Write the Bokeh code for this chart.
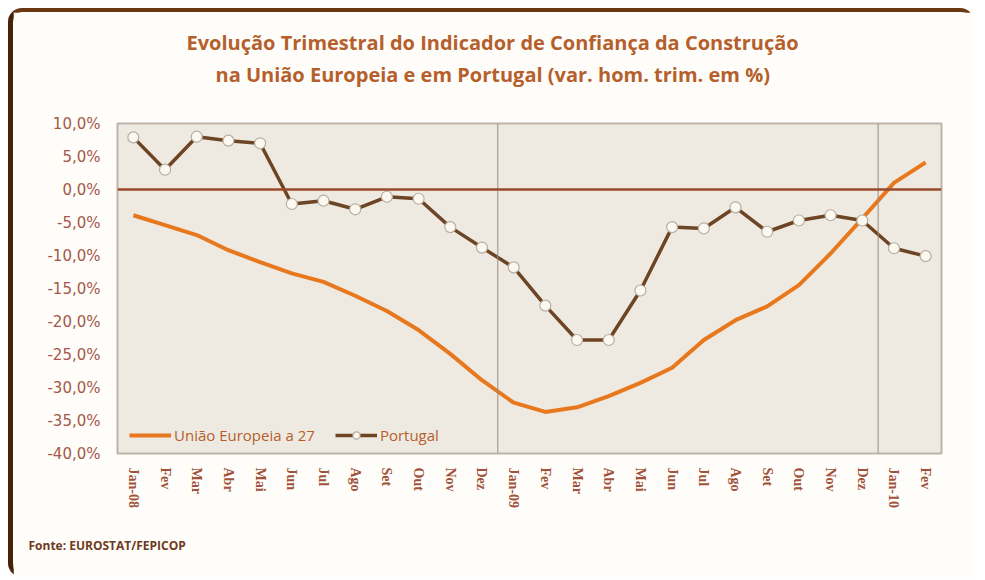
from bokeh.plotting import figure
from bokeh.models import (Title, Legend, LegendItem, Span, FixedTicker, ColumnDataSource)
from bokeh.embed import file_html
from bokeh.resources import INLINE

# ---- data ----
months = ["Jan-08", "Fev", "Mar", "Abr", "Mai", "Jun", "Jul", "Ago", "Set", "Out", "Nov", "Dez",
          "Jan-09", "Fev", "Mar", "Abr", "Mai", "Jun", "Jul", "Ago", "Set", "Out", "Nov", "Dez",
          "Jan-10", "Fev"]
ue27 = [-3.9, -5.4, -6.9, -9.2, -11.0, -12.7, -14.0, -16.1, -18.4, -21.3, -24.9, -28.9,
        -32.3, -33.7, -33.0, -31.3, -29.3, -27.0, -22.8, -19.8, -17.7, -14.5, -9.7, -4.4,
        1.0, 4.1]
portugal = [7.9, 3.0, 8.0, 7.4, 7.0, -2.2, -1.7, -3.0, -1.1, -1.4, -5.7, -8.8,
            -11.8, -17.6, -22.8, -22.8, -15.3, -5.7, -5.9, -2.7, -6.4, -4.7, -3.9, -4.7,
            -8.9, -10.1]
y_ticks = [10, 5, 0, -5, -10, -15, -20, -25, -30, -35, -40]
y_tick_labels = ["10,0%", "5,0%", "0,0%", "-5,0%", "-10,0%", "-15,0%", "-20,0%", "-25,0%",
                 "-30,0%", "-35,0%", "-40,0%"]
year_breaks = [11.5, 23.5]
title_lines = ["Evolução Trimestral do Indicador de Confiança da Construção",
               "na União Europeia e em Portugal (var. hom. trim. em %)"]
source_text = "Fonte: EUROSTAT/FEPICOP"
series_names = ["União Europeia a 27", "Portugal"]

x = list(range(len(months)))
src = ColumnDataSource(dict(x=x, ue=ue27, pt=portugal))

ORANGE = "#E8781E"
BROWN = "#6E4524"
TXT = "#B5602C"

p = figure(output_backend="svg", toolbar_location=None,
           frame_width=824, frame_height=330,
           x_range=(-0.5, len(months) - 0.5), y_range=(-40, 10),
           min_border_left=104, min_border_right=33, min_border_top=111, min_border_bottom=90,
           background_fill_color="#EEEAE2", border_fill_color="#FFFDF9",
           outline_line_color="#BDB3A8", outline_line_width=2)
p.styles = {"margin-left": "8px", "margin-top": "8px",
            "border-top": "4px solid #6B3810", "border-left": "5px solid #4A2006",
            "border-radius": "14px"}

# titles: panels stack outward from the plot (spacer, line 2, line 1)
p.title.text = title_lines[0]
p.title.align = "left"
p.title.offset = 69
p.title.standoff = 1
p.title.text_color = TXT
p.title.text_font = "Open Sans"
p.title.text_font_size = "20px"
p.title.text_font_style = "bold"
p.add_layout(Title(text=" ", standoff=5, text_font="Open Sans", text_font_size="20px"), "above")
p.add_layout(Title(text=title_lines[1], align="left", offset=98, standoff=4,
                   text_color=TXT, text_font="Open Sans", text_font_size="20px",
                   text_font_style="bold"), "above")

p.grid.visible = False

p.yaxis.ticker = FixedTicker(ticks=y_ticks)
p.yaxis.major_label_overrides = {t: l for t, l in zip(y_ticks, y_tick_labels)}
p.yaxis.axis_line_color = None
p.yaxis.major_tick_line_color = None
p.yaxis.minor_tick_line_color = None
p.yaxis.major_label_standoff = 11
p.yaxis.major_label_text_color = "#A5584A"
p.yaxis.major_label_text_font = "DejaVu Sans"
p.yaxis.major_label_text_font_size = "15px"

p.xaxis.ticker = FixedTicker(ticks=x)
p.xaxis.major_label_overrides = {i: m for i, m in enumerate(months)}
p.xaxis.major_label_orientation = "vertical"
p.xaxis.axis_line_color = None
p.xaxis.major_tick_line_color = None
p.xaxis.minor_tick_line_color = None
p.xaxis.major_label_standoff = 8
p.xaxis.major_label_text_color = "#A0523A"
p.xaxis.major_label_text_font = "Liberation Serif"
p.xaxis.major_label_text_font_size = "14px"
p.xaxis.major_label_text_font_style = "bold"

for xb in year_breaks:
    p.add_layout(Span(location=xb, dimension="height", line_color="#9C8C7E", line_width=1))
p.add_layout(Span(location=0, dimension="width", line_color="#9A4A2A", line_width=2.5))

r_ue = p.line("x", "ue", source=src, line_color=ORANGE, line_width=4)
r_pt = p.line("x", "pt", source=src, line_color=BROWN, line_width=3.5)
r_ptm = p.scatter("x", "pt", source=src, marker="circle", size=11,
                  fill_color="#FBF8F0", line_color="#B8ADA0", line_width=1.2)

# source note under the axis labels
p.add_layout(Title(text=source_text, align="left", offset=-89, standoff=48,
                   text_color="#6E3B22", text_font="Open Sans", text_font_size="12px",
                   text_font_style="bold"), "below")

# legend kept inside the plot area (empty lower-left corner) so it is always drawn
legend = Legend(items=[LegendItem(label=series_names[0], renderers=[r_ue]),
                       LegendItem(label=series_names[1], renderers=[r_pt, r_ptm])],
                orientation="horizontal", location=(12, 8),
                background_fill_alpha=0, border_line_color=None, padding=0, margin=0,
                label_text_color=TXT, label_text_font="Open Sans", label_text_font_size="15px",
                glyph_width=42, glyph_height=18, spacing=20, label_standoff=3)
p.add_layout(legend)

open("out.html", "w").write(file_html(p, INLINE))
